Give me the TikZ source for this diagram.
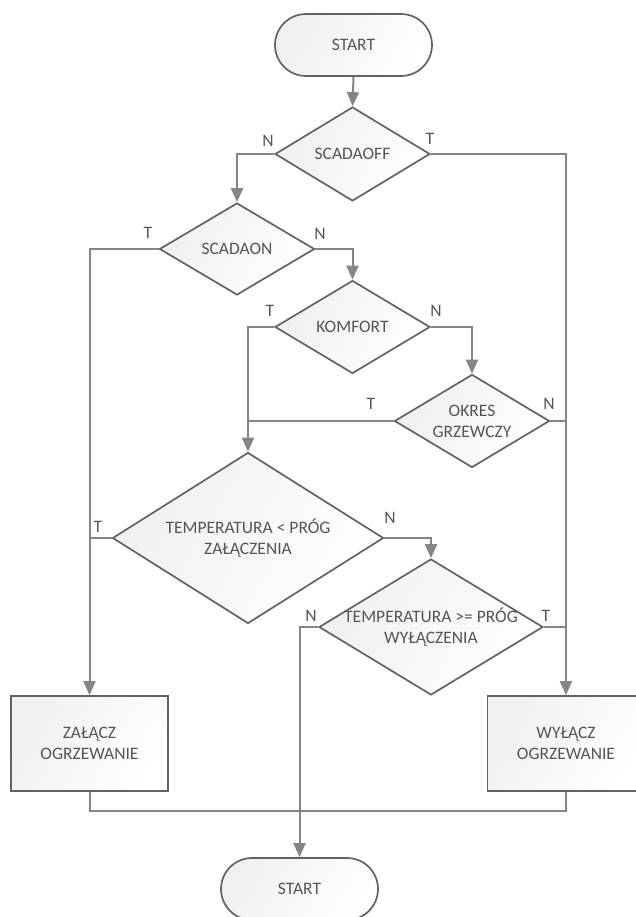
\documentclass[tikz,border=0pt]{standalone}
\usepackage{fontspec}
\setmainfont{Carlito}
\usetikzlibrary{arrows.meta,shapes.geometric}
\definecolor{conn}{HTML}{858585}
\definecolor{edge}{HTML}{626262}
\definecolor{txt}{HTML}{555555}
\begin{document}
\begin{tikzpicture}[x=1pt,y=-1pt,
  font=\fontsize{17.5}{21}\selectfont,
  every node/.style={text=txt},
  shapefill/.style={draw=edge,line width=1.7pt,left color=black!6,right color=white,shading angle=60},
  term/.style={shapefill,rectangle,rounded corners=31pt,minimum width=157pt,minimum height=62pt,inner sep=0pt},
  proc/.style={shapefill,rectangle,minimum width=157pt,minimum height=95pt,inner sep=0pt,align=center},
  dec/.style={shapefill,diamond,inner sep=0pt,shape aspect=1},
  lab/.style={inner sep=0pt},
  conline/.style={draw=conn,line width=2pt},
  arr/.style={conline,-{Triangle[width=12pt,length=14pt]}},
]
\useasboundingbox (0,0) rectangle (635,917);
% terminals
\node[term] (s1) at (353.5,45) {START};
\node[term] (s2) at (299.5,889) {START};
% decisions
\node[dec,minimum width=155pt,minimum height=94pt,label={[lab]center:SCADAOFF}] (d1) at (352.5,154) {};
\node[dec,minimum width=155pt,minimum height=92pt,label={[lab]center:SCADAON}] (d2) at (237,249) {};
\node[dec,minimum width=155pt,minimum height=93pt,label={[lab]center:KOMFORT}] (d3) at (352.5,327) {};
\node[dec,minimum width=155pt,minimum height=93pt,label={[lab,align=center]center:OKRES\\GRZEWCZY}] (d4) at (472,421) {};
\node[dec,minimum width=271pt,minimum height=171pt,label={[lab,align=center]center:TEMPERATURA < PRÓG\\ZAŁĄCZENIA}] (d5) at (248,538) {};
\node[dec,minimum width=224pt,minimum height=136pt,label={[lab,align=center]center:TEMPERATURA >= PRÓG\\WYŁĄCZENIA}] (d6) at (431,627) {};
% process boxes
\node[proc] (p1) at (89.5,743.5) {ZAŁĄCZ\\OGRZEWANIE};
\node[proc] (p2) at (566,743.5) {WYŁĄCZ\\OGRZEWANIE};
\coordinate (bus) at (299.5,811);
% connectors
\draw[arr] (s1.south) -- (d1.north);
\draw[arr] (d1.west) -| (d2.north);
\draw[arr] (d1.east) -| (p2.north);
\draw[arr] (d2.west) -| (p1.north);
\draw[arr] (d2.east) -| (d3.north);
\draw[arr] (d3.east) -| (d4.north);
\draw[arr] (d3.west) -| (d5.north);
\draw[conline] (d4.west) -- (d4.west -| d5.north);
\draw[conline] (d4.east) -- (d4.east -| p2.north);
\draw[conline] (d5.west) -- (d5.west -| p1.north);
\draw[arr] (d5.east) -| (d6.north);
\draw[arr] (d6.west) -| (s2.north);
\draw[conline] (d6.east) -- (d6.east -| p2.north);
\draw[conline] (p1.south) |- (bus) -| (p2.south);
% branch labels
\node[lab] (l1n) at (268,141) {N};
\node[lab] (l1t) at (430,139) {T};
\node[lab] (l2t) at (148,233) {T};
\node[lab] (l2n) at (320,234) {N};
\node[lab] (l3t) at (270,311) {T};
\node[lab] (l3n) at (436,311) {N};
\node[lab] (l4t) at (371,404) {T};
\node[lab] (l4n) at (549,404) {N};
\node[lab] (l5t) at (98,527) {T};
\node[lab] (l5n) at (390,518) {N};
\node[lab] (l6n) at (311,616) {N};
\node[lab] (l6t) at (546,616) {T};
\end{tikzpicture}
\end{document}
